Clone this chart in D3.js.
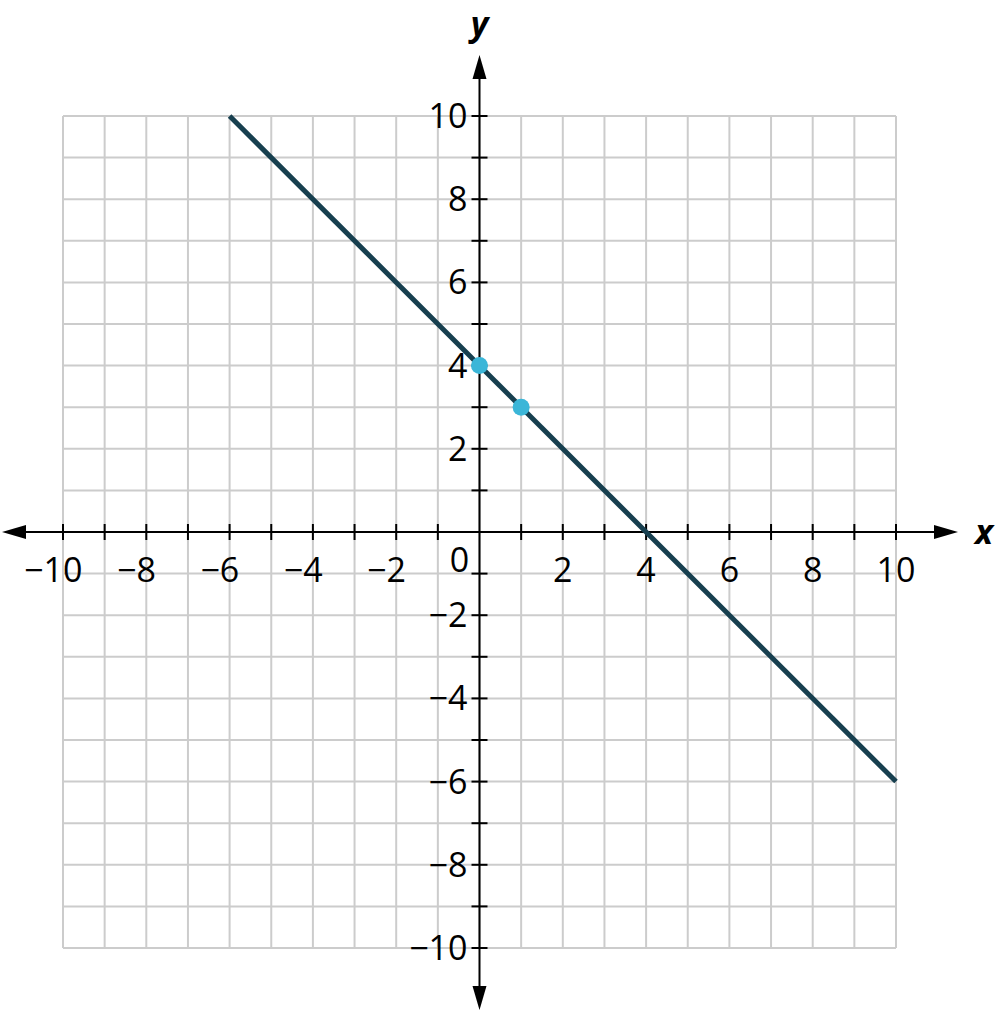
<!DOCTYPE html>
<html>
<head>
<meta charset="utf-8">
<script src="https://d3js.org/d3.v7.min.js"></script>
<style>
  body { margin: 0; background: #fff; }
  text { font-family: "Open Sans", sans-serif; }
</style>
</head>
<body>
<div id="chart-area"></div>
<script>
// values
var gridValues = d3.range(-10, 11);
var tickLabels = [-10, -8, -6, -4, -2, 2, 4, 6, 8, 10];
var lineX = [-6, 10];
var lineY = [10, -6];
var pointX = [0, 1];
var pointY = [4, 3];

var width = 995, height = 1013;

var svg = d3.select('#chart-area')
	.append('svg')
		.attr('width', width)
		.attr('height', height);

var x = d3.scaleLinear().domain([-10, 10]).range([63, 896]);
var y = d3.scaleLinear().domain([-10, 10]).range([948, 116]);

var grid = svg.append('g').attr('class', 'grid');

grid.selectAll('.vgrid')
	.data(gridValues)
	.enter().append('line')
		.attr('x1', d => x(d)).attr('x2', d => x(d))
		.attr('y1', y(10)).attr('y2', y(-10))
		.attr('stroke', '#cccccc')
		.attr('stroke-width', 2);

grid.selectAll('.hgrid')
	.data(gridValues)
	.enter().append('line')
		.attr('y1', d => y(d)).attr('y2', d => y(d))
		.attr('x1', x(-10)).attr('x2', x(10))
		.attr('stroke', '#cccccc')
		.attr('stroke-width', 2);

// axes
var axes = svg.append('g').attr('class', 'axes');

axes.append('line')
	.attr('x1', 20).attr('x2', 940)
	.attr('y1', y(0)).attr('y2', y(0))
	.attr('stroke', '#000').attr('stroke-width', 2);

axes.append('line')
	.attr('x1', x(0)).attr('x2', x(0))
	.attr('y1', 74).attr('y2', 992)
	.attr('stroke', '#000').attr('stroke-width', 2);

// arrow heads
var ox = x(0), oy = y(0);
axes.append('path').attr('d', 'M2,' + oy + 'L26,' + (oy - 7) + 'L26,' + (oy + 7) + 'Z');
axes.append('path').attr('d', 'M958,' + oy + 'L934,' + (oy - 7) + 'L934,' + (oy + 7) + 'Z');
axes.append('path').attr('d', 'M' + ox + ',55L' + (ox - 7) + ',79L' + (ox + 7) + ',79Z');
axes.append('path').attr('d', 'M' + ox + ',1010L' + (ox - 7) + ',986L' + (ox + 7) + ',986Z');

// tick marks
var ticks = gridValues.filter(d => d !== 0);
axes.selectAll('.xtick')
	.data(ticks)
	.enter().append('line')
		.attr('x1', d => x(d)).attr('x2', d => x(d))
		.attr('y1', oy - 8).attr('y2', oy + 8)
		.attr('stroke', '#000').attr('stroke-width', 2);

axes.selectAll('.ytick')
	.data(ticks)
	.enter().append('line')
		.attr('y1', d => y(d)).attr('y2', d => y(d))
		.attr('x1', ox - 8).attr('x2', ox + 8)
		.attr('stroke', '#000').attr('stroke-width', 2);

// tick labels, digits centred on the tick, minus sign hangs to the left
var fontSize = 34;
var xLabels = svg.append('g').attr('font-size', fontSize + 'px').attr('fill', '#000');
tickLabels.forEach(function(v) {
	var digits = xLabels.append('text')
		.attr('x', x(v))
		.attr('y', oy + 50)
		.attr('text-anchor', 'middle')
		.text(Math.abs(v));
	if (v < 0) {
		var w = digits.node().getComputedTextLength();
		xLabels.append('text')
			.attr('x', x(v) - w / 2)
			.attr('y', oy + 50)
			.attr('text-anchor', 'end')
			.text('\u2212');
	}
});

svg.append('g').attr('font-size', fontSize + 'px')
	.selectAll('text')
	.data(tickLabels)
	.enter().append('text')
		.attr('x', ox - 12)
		.attr('y', d => y(d) + 12)
		.attr('text-anchor', 'end')
		.text(d => (d < 0 ? '\u2212' : '') + Math.abs(d));

svg.append('text')
	.attr('x', ox - 20)
	.attr('y', oy + 40)
	.attr('font-size', fontSize + 'px')
	.attr('text-anchor', 'middle')
	.text('0');

// axis names
svg.append('text')
	.attr('x', ox)
	.attr('y', 36)
	.attr('text-anchor', 'middle')
	.attr('font-size', '34px')
	.attr('font-weight', 'bold')
	.attr('font-style', 'italic')
	.text('y');

svg.append('text')
	.attr('x', 984)
	.attr('y', oy + 12)
	.attr('text-anchor', 'middle')
	.attr('font-size', '34px')
	.attr('font-weight', 'bold')
	.attr('font-style', 'italic')
	.text('x');

// the line
var lineData = lineX.map((d, i) => [d, lineY[i]]);
svg.append('path')
	.datum(lineData)
	.attr('d', d3.line().x(d => x(d[0])).y(d => y(d[1])))
	.attr('fill', 'none')
	.attr('stroke', '#173f4f')
	.attr('stroke-width', 5);

// the points
svg.selectAll('circle')
	.data(pointX.map((d, i) => [d, pointY[i]]))
	.enter().append('circle')
		.attr('cx', d => x(d[0]))
		.attr('cy', d => y(d[1]))
		.attr('r', 8.5)
		.attr('fill', '#3bb6d8');
</script>
</body>
</html>
